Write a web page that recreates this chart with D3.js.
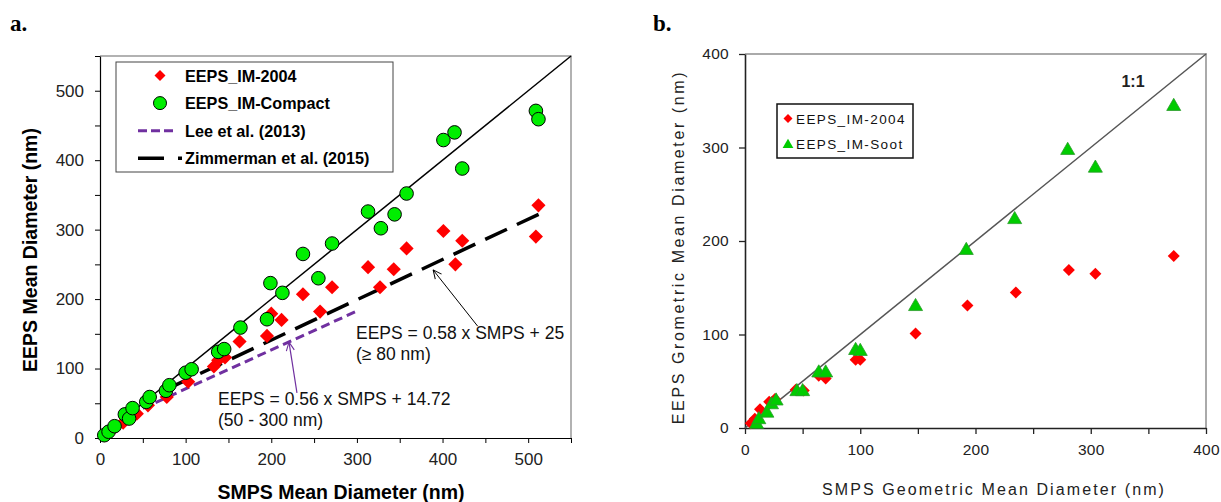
<!DOCTYPE html>
<html>
<head>
<meta charset="utf-8">
<script src="https://cdn.jsdelivr.net/npm/d3@7/dist/d3.min.js"></script>
<style>
  body { margin: 0; background: #fff; }
  svg { display: block; font-family: Arial, "Liberation Sans", sans-serif; }
</style>
</head>
<body>
<svg id="chart" width="1221" height="502"></svg>
<script>
// panel a: SMPS vs EEPS mean diameter (nm)
const aImX = [5, 8, 16, 27, 43, 56, 78, 103, 133, 138, 146, 163, 195, 200, 212, 237, 257, 271, 313, 327, 343, 358, 401, 415, 423, 509, 512];
const aImY = [4, 6, 14, 22, 35, 47, 59, 81, 103, 112, 116, 139, 147, 179, 170, 207, 182, 217, 246, 217, 243, 273, 298, 250, 284, 290, 335];
const aCompactX = [5, 10, 17, 29, 34, 38, 54, 58, 77, 81, 100, 107, 138, 145, 164, 195, 199, 213, 237, 255, 271, 313, 328, 344, 358, 401, 414, 423, 509, 512];
const aCompactY = [4, 9, 17, 34, 28, 43, 52, 59, 68, 76, 94, 99, 124, 128, 159, 171, 223, 209, 265, 230, 280, 326, 302, 322, 352, 429, 440, 388, 471, 459];
const leeRange = [50, 300];
const zimRange = [80, 516];
const aTicks = [0, 100, 200, 300, 400, 500];

// panel b: geometric mean diameter (nm)
const bImX = [5, 8.5, 13, 21, 26, 44, 51, 64, 70, 96, 100, 148, 193, 235, 281, 304, 372];
const bImY = [5, 10, 20, 28, 31, 41, 40, 56, 53, 73, 73, 101, 131, 145, 169, 165, 184];
const bSootX = [10, 12, 19, 23, 27, 45, 50, 64, 70, 96, 100, 148, 192, 234, 280, 304, 372];
const bSootY = [5, 10, 17, 26, 30, 40, 40, 60, 60, 84, 83, 131, 191, 224, 298, 279, 345];
const bTicks = [0, 100, 200, 300, 400];

const svg = d3.select('#chart');
const red = '#ff0000';

// open arrow heads, tip on +x so auto-start-reverse points them at the line start
svg.append('defs').html(
  '<marker id="arrK" viewBox="0 0 10 10" refX="9.5" refY="5" markerWidth="10" markerHeight="10" markerUnits="userSpaceOnUse" orient="auto-start-reverse">' +
  '<path d="M1,1 L9.5,5 L1,9" fill="none" stroke="#000" stroke-width="1"/></marker>' +
  '<marker id="arrP" viewBox="0 0 10 10" refX="9.5" refY="5" markerWidth="10" markerHeight="10" markerUnits="userSpaceOnUse" orient="auto-start-reverse">' +
  '<path d="M1,1 L9.5,5 L1,9" fill="none" stroke="#7030a0" stroke-width="1.1"/></marker>');

// ---------- panel a ----------
const xa = d3.scaleLinear().domain([0, 550]).range([100, 571]);
const ya = d3.scaleLinear().domain([0, 550]).range([438, 56]);
const ga = svg.append('g');

ga.append('text').attr('x', 10).attr('y', 31)
  .style('font-family', '"Liberation Serif", "DejaVu Serif", serif')
  .style('font-weight', 'bold').style('font-size', '23px').text('a.');

// frame (top/right)
ga.append('path')
  .attr('d', `M${xa(0)},${ya(550)}H${xa(550)}V${ya(0)}`)
  .attr('fill', 'none').attr('stroke', '#999').attr('stroke-width', 1.5);

const axA = (g, axis) => {
  g.call(axis);
  g.select('.domain').attr('stroke', '#000').attr('stroke-width', 1.2);
  g.selectAll('line').attr('stroke', '#000');
  g.selectAll('text').style('font-size', '17px').attr('fill', '#222');
};
const aMinor = d3.range(0, 551, 50);
ga.append('g').attr('transform', `translate(0,${ya(0)})`)
  .call(g => axA(g, d3.axisBottom(xa).tickValues(aMinor).tickSize(5).tickSizeOuter(0)
    .tickFormat(d => aTicks.includes(d) ? d : '').tickPadding(10)));
ga.append('g').attr('transform', `translate(${xa(0)},0)`)
  .call(g => axA(g, d3.axisLeft(ya).tickValues(aMinor).tickSize(5).tickSizeOuter(0)
    .tickFormat(d => aTicks.includes(d) ? d : '').tickPadding(11)));

ga.append('text').attr('x', 341).attr('y', 499).attr('text-anchor', 'middle')
  .style('font-weight', 'bold').style('font-size', '19.5px').text('SMPS Mean Diameter (nm)');
ga.append('text').attr('transform', 'translate(37,250) rotate(-90)').attr('text-anchor', 'middle')
  .style('font-weight', 'bold').style('font-size', '19.5px').text('EEPS Mean Diameter (nm)');

// 1:1 line, fits
ga.append('line').attr('x1', xa(0)).attr('y1', ya(0)).attr('x2', xa(550)).attr('y2', ya(550))
  .attr('stroke', '#000').attr('stroke-width', 1.5);
ga.append('line')
  .attr('x1', xa(leeRange[0])).attr('y1', ya(0.56 * leeRange[0] + 14.72))
  .attr('x2', xa(leeRange[1])).attr('y2', ya(0.56 * leeRange[1] + 14.72))
  .attr('stroke', '#7030a0').attr('stroke-width', 3).attr('stroke-dasharray', '9,5');
ga.append('line')
  .attr('x1', xa(zimRange[0])).attr('y1', ya(0.58 * zimRange[0] + 25))
  .attr('x2', xa(zimRange[1])).attr('y2', ya(0.58 * zimRange[1] + 25))
  .attr('stroke', '#000').attr('stroke-width', 3.5).attr('stroke-dasharray', '24,11');

// points
const sq = d3.symbol(d3.symbolSquare, 100)();
ga.append('g').selectAll('path').data(aImX).join('path')
  .attr('d', sq).attr('fill', red)
  .attr('transform', (d, i) => `translate(${xa(d)},${ya(aImY[i])}) rotate(45)`);
ga.append('g').selectAll('circle').data(aCompactX).join('circle')
  .attr('cx', d => xa(d)).attr('cy', (d, i) => ya(aCompactY[i])).attr('r', 6.8)
  .attr('fill', '#00ee00').attr('stroke', '#000').attr('stroke-width', 1);

// annotations
ga.append('line').attr('x1', xa(389)).attr('y1', ya(242)).attr('x2', xa(441)).attr('y2', ya(161))
  .attr('stroke', '#000').attr('stroke-width', 1).attr('marker-start', 'url(#arrK)');
ga.append('line').attr('x1', xa(220.7)).attr('y1', ya(138)).attr('x2', xa(230)).attr('y2', ya(65))
  .attr('stroke', '#7030a0').attr('stroke-width', 1.2).attr('marker-start', 'url(#arrP)');
const note = (x, y, t) => ga.append('text').attr('x', x).attr('y', y)
  .style('font-size', '17.5px').attr('fill', '#111').text(t);
note(356, 339, 'EEPS = 0.58 x SMPS + 25');
note(356, 360, '(\u2265 80 nm)');
note(218, 405, 'EEPS = 0.56 x SMPS + 14.72');
note(218, 426, '(50 - 300 nm)');

// legend a
const la = ga.append('g');
la.append('rect').attr('x', 116).attr('y', 62).attr('width', 277).attr('height', 110)
  .attr('fill', '#fff').attr('stroke', '#444').attr('stroke-width', 1);
const laRows = ['EEPS_IM-2004', 'EEPS_IM-Compact', 'Lee et al. (2013)', 'Zimmerman et al. (2015)'];
laRows.forEach((t, i) => {
  const y = 75.5 + i * 27.6;
  la.append('text').attr('x', 185).attr('y', y + 6)
    .style('font-weight', 'bold').style('font-size', '16.2px').text(t);
});
la.append('path').attr('d', d3.symbol(d3.symbolSquare, 60)()).attr('fill', red)
  .attr('transform', 'translate(160,75.5) rotate(45)');
la.append('circle').attr('cx', 160).attr('cy', 103.1).attr('r', 6.5)
  .attr('fill', '#00ee00').attr('stroke', '#000');
la.append('line').attr('x1', 138).attr('x2', 176).attr('y1', 130.7).attr('y2', 130.7)
  .attr('stroke', '#7030a0').attr('stroke-width', 3).attr('stroke-dasharray', '9,4');
la.append('line').attr('x1', 138).attr('x2', 182).attr('y1', 158.3).attr('y2', 158.3)
  .attr('stroke', '#000').attr('stroke-width', 3.5).attr('stroke-dasharray', '26,14');

// ---------- panel b ----------
const xb = d3.scaleLinear().domain([0, 400]).range([745, 1206]);
const yb = d3.scaleLinear().domain([0, 400]).range([428, 54]);
const gb = svg.append('g');

gb.append('text').attr('x', 653).attr('y', 31)
  .style('font-family', '"Liberation Serif", "DejaVu Serif", serif')
  .style('font-weight', 'bold').style('font-size', '23px').text('b.');

gb.append('path')
  .attr('d', `M${xb(0)},${yb(400)}H${xb(400)}V${yb(0)}`)
  .attr('fill', 'none').attr('stroke', '#aaa').attr('stroke-width', 2);

const axB = (g, axis) => {
  g.call(axis);
  g.select('.domain').attr('stroke', '#222').attr('stroke-width', 1.6);
  g.selectAll('line').attr('stroke', '#222').attr('stroke-width', 1.3);
  g.selectAll('text').style('font-size', '15.5px').style('letter-spacing', '0.3px').attr('fill', '#222');
};
gb.append('g').attr('transform', `translate(0,${yb(0)})`)
  .call(g => axB(g, d3.axisBottom(xb).tickValues(d3.range(0, 401, 50)).tickSize(6).tickSizeOuter(0)
    .tickFormat(d => bTicks.includes(d) ? d : '').tickPadding(10)));
gb.append('g').attr('transform', `translate(${xb(0)},0)`)
  .call(g => axB(g, d3.axisLeft(yb).tickValues(bTicks).tickSize(6).tickSizeOuter(0).tickPadding(10)));

gb.append('text').attr('x', 994).attr('y', 495).attr('text-anchor', 'middle')
  .style('font-size', '16px').style('letter-spacing', '2.1px').attr('fill', '#222')
  .text('SMPS Geometric Mean Diameter (nm)');
gb.append('text').attr('transform', 'translate(684,247) rotate(-90)').attr('text-anchor', 'middle')
  .style('font-size', '16px').style('letter-spacing', '2.6px').attr('fill', '#222')
  .text('EEPS Grometric Mean Diameter (nm)');

gb.append('line').attr('x1', xb(0)).attr('y1', yb(0)).attr('x2', xb(400)).attr('y2', yb(400))
  .attr('stroke', '#555').attr('stroke-width', 1.5);
gb.append('text').attr('x', 1133).attr('y', 87).attr('text-anchor', 'middle')
  .style('font-size', '16px').style('font-weight', 'bold').attr('fill', '#222').text('1:1');

const sqb = d3.symbol(d3.symbolSquare, 72)();
gb.append('g').selectAll('path').data(bImX).join('path')
  .attr('d', sqb).attr('fill', red)
  .attr('transform', (d, i) => `translate(${xb(d)},${yb(bImY[i])}) rotate(45)`);
const tri = d3.symbol(d3.symbolTriangle, 85)();
gb.append('g').selectAll('path').data(bSootX).join('path')
  .attr('d', tri).attr('fill', '#00cc00').attr('stroke', '#2a9a2a').attr('stroke-width', 0.8)
  .attr('transform', (d, i) => `translate(${xb(d)},${yb(bSootY[i]) + 1})`);

// legend b
const lb = gb.append('g');
lb.append('rect').attr('x', 777).attr('y', 104).attr('width', 136).attr('height', 54)
  .attr('fill', '#fff').attr('stroke', '#111').attr('stroke-width', 1.5);
lb.append('path').attr('d', d3.symbol(d3.symbolSquare, 40)()).attr('fill', red)
  .attr('transform', 'translate(788,118.5) rotate(45)');
lb.append('path').attr('d', d3.symbol(d3.symbolTriangle, 50)()).attr('fill', '#00cc00')
  .attr('transform', 'translate(788,145)');
[['EEPS_IM-2004', 118.5], ['EEPS_IM-Soot', 144]].forEach(([t, y]) => {
  lb.append('text').attr('x', 796).attr('y', y + 5)
    .style('font-size', '13.5px').style('letter-spacing', '1.4px').attr('fill', '#111').text(t);
});
</script>
</body>
</html>
